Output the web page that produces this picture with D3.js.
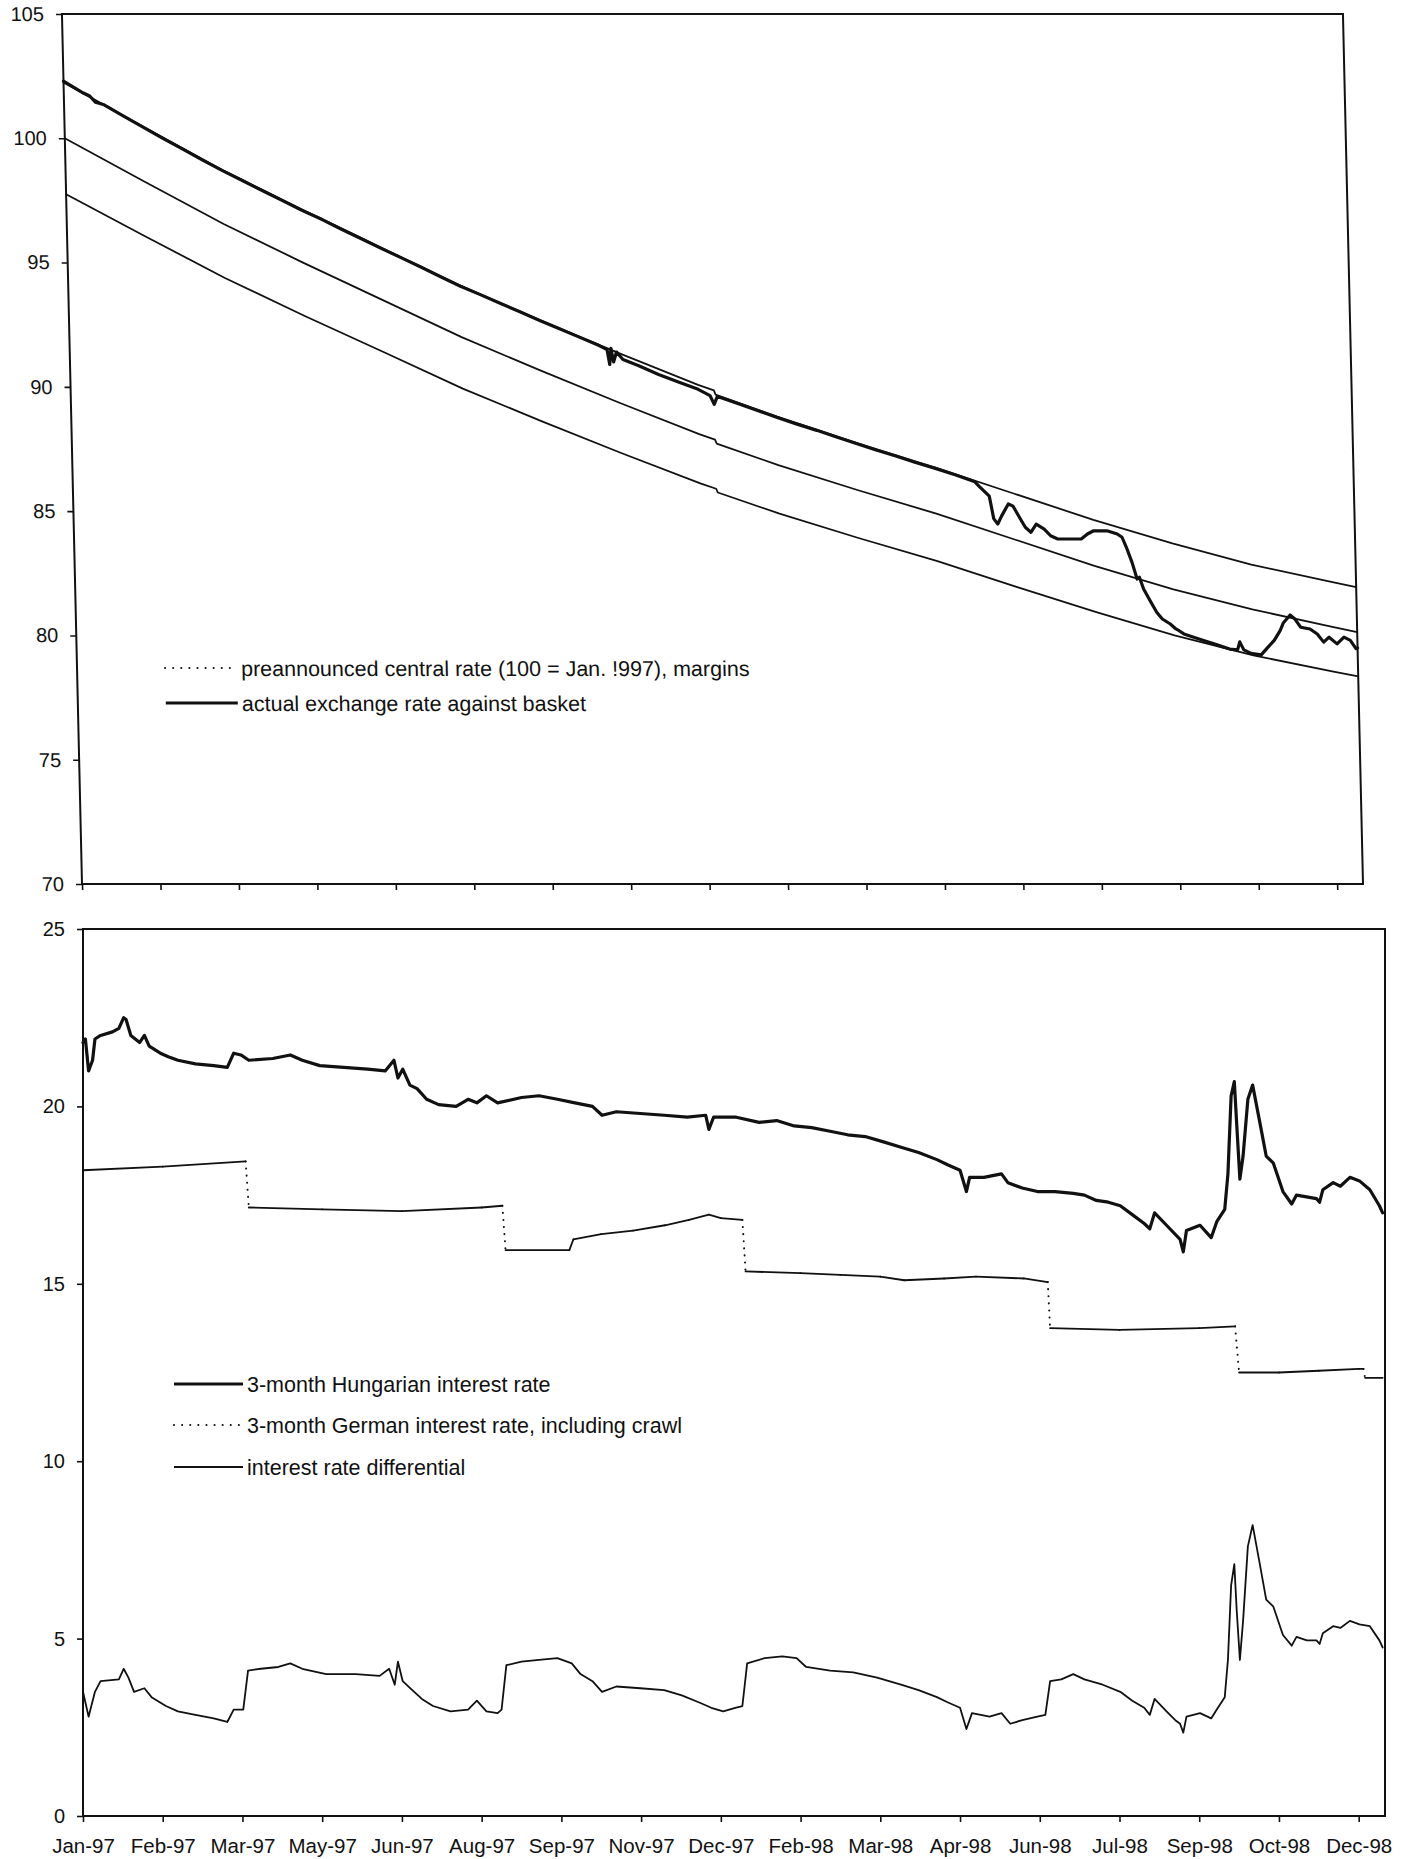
<!DOCTYPE html>
<html>
<head>
<meta charset="utf-8">
<script src="https://cdn.jsdelivr.net/npm/d3@7"></script>
<style>
  html, body { margin: 0; padding: 0; background: #fff; }
  svg { display: block; }
  text { font-family: "Liberation Sans", Arial, Helvetica, sans-serif; fill: #111; }
</style>
</head>
<body>
<svg id="chart" width="1411" height="1859"></svg>
<script>
// ---- shared date axis: one tick every ~32 trading days, Jan 1997 - Dec 1998 ----
// x values below are in tick units (0 = first tick, 16 = last tick, 16.33 = last observation)
const tickLabels = ["Jan-97", "Feb-97", "Mar-97", "May-97", "Jun-97", "Aug-97", "Sep-97", "Nov-97",
  "Dec-97", "Feb-98", "Mar-98", "Apr-98", "Jun-98", "Jul-98", "Sep-98", "Oct-98", "Dec-98"];
const xEnd = 16.33;

// ---- upper panel: crawling-peg band and forint exchange rate (index, 100 = Jan. 1997) ----
const bandT = [0, 1, 2, 3, 4, 5, 6, 7, 8, 8.2, 8.22, 9, 10, 11, 12, 13, 14, 15, 16, 16.33];
const centralRate = [100.0, 98.26, 96.55, 95.0, 93.5, 92.0, 90.65, 89.35, 88.1, 87.88, 87.72,
  86.85, 85.85, 84.9, 83.85, 82.8, 81.85, 81.05, 80.35, 80.13];
const upperMargin = [102.25, 100.47, 98.72, 97.14, 95.6, 94.07, 92.69, 91.36, 90.08, 89.86, 89.69,
  88.8, 87.75, 86.75, 85.7, 84.65, 83.7, 82.85, 82.16, 81.94];
const lowerMargin = [97.75, 96.05, 94.38, 92.86, 91.4, 89.93, 88.61, 87.34, 86.12, 85.9, 85.75,
  84.9, 83.92, 82.99, 81.95, 80.95, 80.0, 79.2, 78.55, 78.35];

const actualRate = [
  [0, 102.3], [0.25, 101.82], [0.33, 101.7], [0.4, 101.45], [0.5, 101.36], [0.75, 100.9], [1, 100.45],
  [1.25, 100.0], [1.5, 99.56], [1.75, 99.12], [2, 98.7], [2.25, 98.3], [2.5, 97.9], [2.75, 97.5],
  [3, 97.1], [3.25, 96.74], [3.5, 96.34], [3.75, 95.96], [4, 95.57], [4.25, 95.2], [4.5, 94.82],
  [4.75, 94.43], [5, 94.05], [5.25, 93.71], [5.5, 93.36], [5.75, 93.02], [6, 92.67], [6.25, 92.34],
  [6.5, 92.0], [6.75, 91.66], [6.85, 91.5], [6.88, 90.9], [6.9, 91.55], [6.93, 91.0], [6.97, 91.4],
  [7.05, 91.1], [7.25, 90.85], [7.5, 90.5], [7.75, 90.2], [8.0, 89.9], [8.15, 89.65], [8.2, 89.3],
  [8.24, 89.6], [8.3, 89.55], [8.5, 89.33], [8.75, 89.05], [9, 88.77], [9.25, 88.5], [9.5, 88.25],
  [9.75, 87.98], [10, 87.72], [10.25, 87.46], [10.5, 87.22], [10.75, 86.96], [11, 86.72],
  [11.25, 86.46], [11.5, 86.18], [11.56, 85.98], [11.68, 85.6], [11.73, 84.7], [11.78, 84.48],
  [11.83, 84.8], [11.92, 85.29], [11.98, 85.2], [12.07, 84.68], [12.13, 84.35], [12.2, 84.15],
  [12.27, 84.48], [12.37, 84.28], [12.45, 84.01], [12.54, 83.88], [12.84, 83.88], [12.92, 84.08],
  [13.0, 84.21], [13.17, 84.21], [13.3, 84.08], [13.36, 83.95], [13.42, 83.48], [13.48, 82.94],
  [13.54, 82.27], [13.57, 82.34], [13.62, 81.87], [13.71, 81.33], [13.78, 80.93], [13.85, 80.66],
  [13.95, 80.46], [14.02, 80.26], [14.06, 80.19], [14.12, 80.06], [14.37, 79.8], [14.54, 79.62],
  [14.7, 79.45], [14.8, 79.42], [14.83, 79.74], [14.88, 79.42], [14.97, 79.28], [15.1, 79.22],
  [15.18, 79.5], [15.27, 79.8], [15.35, 80.2], [15.39, 80.5], [15.48, 80.82], [15.54, 80.66],
  [15.61, 80.33], [15.73, 80.26], [15.82, 80.06], [15.9, 79.73], [15.97, 79.93], [16.07, 79.66],
  [16.16, 79.93], [16.24, 79.8], [16.31, 79.47], [16.33, 79.5]
];

// ---- lower panel: 3-month interest rates (%) ----
const hungarianRate = [
  [0, 21.8], [0.03, 21.9], [0.07, 21.0], [0.12, 21.3], [0.15, 21.9], [0.22, 22.0], [0.37, 22.1],
  [0.45, 22.2], [0.51, 22.5], [0.54, 22.45], [0.6, 22.0], [0.71, 21.8], [0.77, 22.0], [0.83, 21.7],
  [0.97, 21.5], [1.07, 21.4], [1.19, 21.3], [1.41, 21.2], [1.64, 21.15], [1.81, 21.1], [1.89, 21.5],
  [1.98, 21.45], [2.08, 21.3], [2.38, 21.35], [2.6, 21.45], [2.75, 21.3], [2.97, 21.15], [3.27, 21.1],
  [3.57, 21.05], [3.79, 21.0], [3.9, 21.3], [3.95, 20.8], [4.01, 21.05], [4.1, 20.6], [4.19, 20.5],
  [4.31, 20.2], [4.46, 20.05], [4.68, 20.0], [4.83, 20.2], [4.94, 20.1], [5.06, 20.3], [5.2, 20.1],
  [5.5, 20.25], [5.72, 20.3], [5.95, 20.2], [6.17, 20.1], [6.39, 20.0], [6.51, 19.75], [6.69, 19.85],
  [6.99, 19.8], [7.29, 19.75], [7.58, 19.7], [7.81, 19.75], [7.85, 19.35], [7.91, 19.7], [8.18, 19.7],
  [8.48, 19.55], [8.7, 19.6], [8.92, 19.45], [9.14, 19.4], [9.37, 19.3], [9.59, 19.2], [9.81, 19.15],
  [10.04, 19.0], [10.26, 18.85], [10.48, 18.7], [10.71, 18.5], [10.85, 18.35], [11.0, 18.2],
  [11.08, 17.6], [11.12, 18.0], [11.3, 18.0], [11.52, 18.1], [11.6, 17.85], [11.78, 17.7],
  [11.97, 17.6], [12.19, 17.6], [12.42, 17.55], [12.56, 17.5], [12.71, 17.35], [12.86, 17.3],
  [13.01, 17.2], [13.16, 16.95], [13.31, 16.7], [13.38, 16.55], [13.44, 17.0], [13.59, 16.65],
  [13.76, 16.25], [13.8, 15.9], [13.84, 16.5], [14.01, 16.65], [14.15, 16.3], [14.22, 16.75],
  [14.32, 17.1], [14.36, 18.1], [14.4, 20.3], [14.44, 20.7], [14.47, 19.5], [14.51, 17.95],
  [14.55, 18.6], [14.61, 20.2], [14.67, 20.6], [14.76, 19.55], [14.84, 18.6], [14.93, 18.4],
  [15.05, 17.6], [15.16, 17.25], [15.22, 17.5], [15.47, 17.4], [15.51, 17.3], [15.55, 17.65],
  [15.68, 17.85], [15.77, 17.75], [15.89, 18.0], [16.01, 17.9], [16.14, 17.65], [16.26, 17.2],
  [16.3, 17.0]
];

const germanRate = [
  [0, 18.2], [1.0, 18.3], [2.04, 18.45], [2.08, 17.15], [3.0, 17.1], [4.0, 17.05], [5.0, 17.15],
  [5.26, 17.2], [5.3, 15.95], [6.1, 15.95], [6.15, 16.25], [6.5, 16.4], [6.9, 16.5], [7.3, 16.65],
  [7.6, 16.8], [7.85, 16.95], [8.0, 16.85], [8.27, 16.8], [8.31, 15.35], [9.0, 15.3], [9.5, 15.25],
  [10.0, 15.2], [10.3, 15.1], [10.8, 15.15], [11.2, 15.2], [11.8, 15.15], [12.1, 15.05],
  [12.13, 13.75], [13.0, 13.7], [14.0, 13.75], [14.45, 13.8], [14.5, 12.5], [15.0, 12.5],
  [15.5, 12.55], [16.0, 12.6], [16.06, 12.6], [16.08, 12.35], [16.3, 12.35]
];

const rateDifferential = [
  [0, 3.5], [0.07, 2.8], [0.15, 3.5], [0.22, 3.8], [0.45, 3.85], [0.51, 4.15], [0.57, 3.9], [0.64, 3.5],
  [0.77, 3.6], [0.86, 3.35], [1.04, 3.1], [1.19, 2.95], [1.41, 2.85], [1.64, 2.75], [1.81, 2.65],
  [1.89, 3.0], [2.01, 3.0], [2.07, 4.1], [2.23, 4.15], [2.45, 4.2], [2.6, 4.3], [2.75, 4.15],
  [3.05, 4.0], [3.42, 4.0], [3.72, 3.95], [3.84, 4.15], [3.91, 3.7], [3.95, 4.35], [4.01, 3.8],
  [4.13, 3.55], [4.25, 3.3], [4.39, 3.1], [4.61, 2.95], [4.83, 3.0], [4.94, 3.25], [5.06, 2.95],
  [5.2, 2.9], [5.25, 3.0], [5.31, 4.25], [5.5, 4.35], [5.72, 4.4], [5.95, 4.45], [6.13, 4.3],
  [6.24, 4.0], [6.39, 3.8], [6.51, 3.5], [6.69, 3.65], [6.99, 3.6], [7.29, 3.55], [7.51, 3.4],
  [7.73, 3.2], [7.88, 3.05], [8.03, 2.95], [8.18, 3.05], [8.27, 3.1], [8.33, 4.3], [8.55, 4.45],
  [8.77, 4.5], [8.95, 4.45], [9.07, 4.2], [9.37, 4.1], [9.66, 4.05], [9.96, 3.9], [10.26, 3.7],
  [10.48, 3.55], [10.71, 3.35], [10.85, 3.2], [11.0, 3.05], [11.08, 2.45], [11.15, 2.9],
  [11.37, 2.8], [11.52, 2.9], [11.63, 2.6], [11.78, 2.7], [11.97, 2.8], [12.07, 2.85], [12.13, 3.8],
  [12.27, 3.85], [12.42, 4.0], [12.56, 3.85], [12.79, 3.7], [13.01, 3.5], [13.16, 3.25],
  [13.31, 3.05], [13.38, 2.85], [13.44, 3.3], [13.59, 2.95], [13.7, 2.7], [13.76, 2.6], [13.8, 2.35],
  [13.84, 2.8], [14.01, 2.9], [14.15, 2.75], [14.22, 3.0], [14.32, 3.35], [14.36, 4.4], [14.4, 6.5],
  [14.44, 7.1], [14.47, 5.8], [14.51, 4.4], [14.55, 5.5], [14.61, 7.6], [14.67, 8.2], [14.76, 7.1],
  [14.84, 6.1], [14.93, 5.9], [15.05, 5.1], [15.16, 4.8], [15.22, 5.05], [15.35, 4.95], [15.47, 4.95],
  [15.51, 4.85], [15.55, 5.15], [15.68, 5.35], [15.77, 5.3], [15.89, 5.5], [16.01, 5.4],
  [16.14, 5.35], [16.26, 4.95], [16.3, 4.75]
];

// ---- legend texts ----
const legendTop = ["preannounced central rate (100 = Jan. !997), margins", "actual exchange rate against basket"];
const legendBottom = ["3-month Hungarian interest rate", "3-month German interest rate, including crawl",
  "interest rate differential"];

// ---------------------------------------------------------------------------
const svg = d3.select("#chart");
const INK = "#111";
const FONT = "'Liberation Sans', Arial, sans-serif";

function panel(g, cfg) {
  const x = d3.scaleLinear().domain([0, xEnd]).range([cfg.x0, cfg.x1]);
  const y = d3.scaleLinear().domain(cfg.domain).range([cfg.y1, cfg.y0]);

  // y axis ticks and labels
  const yAxis = d3.axisLeft(y).tickValues(cfg.yTicks).tickSize(6).tickPadding(12).tickFormat(d3.format("d"));
  const ya = g.append("g").attr("transform", `translate(${cfg.x0},0)`).call(yAxis);
  ya.select(".domain").remove();
  ya.selectAll("line").attr("stroke", INK).attr("stroke-width", 1.6);
  ya.selectAll("text").attr("font-size", 20).attr("fill", INK).attr("font-family", FONT);

  // x axis ticks (labels only under the lower panel)
  const xAxis = d3.axisBottom(x).tickValues(d3.range(tickLabels.length)).tickSize(6)
    .tickPadding(16).tickFormat(cfg.xLabels ? (i => tickLabels[i]) : () => "");
  const xa = g.append("g").attr("transform", `translate(0,${cfg.y1})`).call(xAxis);
  xa.select(".domain").remove();
  xa.selectAll("line").attr("stroke", INK).attr("stroke-width", 1.6);
  xa.selectAll("text").attr("font-size", 20.5).attr("fill", INK).attr("font-family", FONT);

  // plot area frame
  g.append("rect").attr("x", cfg.x0).attr("y", cfg.y0)
    .attr("width", cfg.x1 - cfg.x0).attr("height", cfg.y1 - cfg.y0)
    .attr("fill", "none").attr("stroke", INK).attr("stroke-width", 2);

  const line = d3.line().x(d => x(d[0])).y(d => y(d[1]));
  cfg.series.forEach(s => {
    if (s.dottedJumps) {
      // daily segments print solid; the long vertical jumps show the dotted pattern
      d3.pairs(s.data).forEach(([a, b]) => {
        const dx = Math.abs(x(b[0]) - x(a[0])), dy = Math.abs(y(b[1]) - y(a[1]));
        const jump = dy > 3 * dx && dy > 8;
        g.append("path").datum([a, b]).attr("d", line)
          .attr("fill", "none").attr("stroke", INK)
          .attr("stroke-width", jump ? 2 : s.width).attr("stroke-linecap", "round")
          .attr("stroke-dasharray", jump ? "0.1,7" : null);
      });
      return;
    }
    g.append("path").datum(s.data).attr("d", line)
      .attr("fill", "none").attr("stroke", INK)
      .attr("stroke-width", s.width).attr("stroke-linejoin", "round").attr("stroke-linecap", "round");
  });

  // legend
  const lg = g.append("g");
  cfg.legend.forEach((it, i) => {
    const ly = cfg.legendY[i];
    lg.append("line").attr("x1", cfg.legendX[0]).attr("x2", cfg.legendX[1]).attr("y1", ly).attr("y2", ly)
      .attr("stroke", INK).attr("stroke-width", it.width)
      .attr("stroke-dasharray", it.dash || null).attr("stroke-linecap", it.dash ? "round" : "butt");
    lg.append("text").attr("x", cfg.legendX[1] + 4).attr("y", ly).attr("dy", "0.35em")
      .attr("font-size", 21.5).attr("font-family", FONT).text(it.label);
  });
}

const zip = (ts, vs) => ts.map((t, i) => [t, vs[i]]);

// upper panel, drawn with a slight shear (left and right edges lean)
const gTop = svg.append("g").attr("transform", "translate(0,884) skewX(1.32) translate(0,-884)");
panel(gTop, {
  x0: 82, x1: 1363, y0: 14, y1: 884, domain: [70, 105], yTicks: d3.range(70, 106, 5), xLabels: false,
  series: [
    { data: zip(bandT, upperMargin), width: 1.8 },
    { data: zip(bandT, centralRate), width: 1.8 },
    { data: zip(bandT, lowerMargin), width: 1.8 },
    { data: actualRate, width: 3.2 }
  ],
  legendX: [170, 242], legendY: [668, 703],
  legend: [
    { label: legendTop[0], width: 2, dash: "0.1,8" },
    { label: legendTop[1], width: 3.2 }
  ]
});

// lower panel
const gBot = svg.append("g");
panel(gBot, {
  x0: 83, x1: 1385, y0: 929, y1: 1816, domain: [0, 25], yTicks: d3.range(0, 26, 5), xLabels: true,
  series: [
    { data: germanRate, width: 1.8, dottedJumps: true },
    { data: rateDifferential, width: 1.8 },
    { data: hungarianRate, width: 3.2 }
  ],
  legendX: [174, 243], legendY: [1384, 1425, 1467],
  legend: [
    { label: legendBottom[0], width: 3.2 },
    { label: legendBottom[1], width: 2, dash: "0.1,8" },
    { label: legendBottom[2], width: 1.8 }
  ]
});
</script>
</body>
</html>
